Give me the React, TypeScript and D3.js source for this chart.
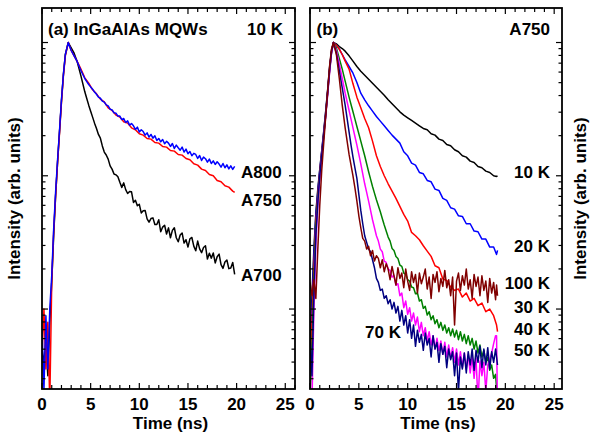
import React from 'react';
import * as d3 from 'd3';

// ---------- DATA (log10 of normalized intensity) ----------
// Panel (a) coarse sampling (ns)
const timeA = [0, 0.2, 0.4, 0.6, 0.8, 1.0, 1.2, 1.4, 1.6, 1.8, 2.0, 2.2, 2.4, 2.7, 3.0, 3.3, 3.6,
  4.0, 4.4, 4.8, 5.2, 5.6, 6.0, 6.4, 6.8, 7.2, 7.6, 8.0, 8.4, 8.8, 9.2, 9.6, 10.0, 10.4, 10.8, 11.2, 11.6,
  12.0, 12.4, 12.8, 13.2, 13.6, 14.0, 14.4, 14.8, 15.2, 15.6, 16.0, 16.4, 16.8, 17.2, 17.6, 18.0, 18.4, 18.8,
  19.2, 19.6, 19.8];

// Panel (a) fine sampling (ns)
const timeAFine = [0, 0.2, 0.4, 0.6, 0.8, 1.0, 1.2, 1.4, 1.6, 1.8, 2.0, 2.2, 2.4, 2.7, 3.0, 3.3, 3.6,
  4.0, 4.2, 4.4, 4.6, 4.8, 5.0, 5.2, 5.4, 5.6, 5.8,
  6.0, 6.2, 6.4, 6.6, 6.8, 7.0, 7.2, 7.4, 7.6, 7.8,
  8.0, 8.2, 8.4, 8.6, 8.8, 9.0, 9.2, 9.4, 9.6, 9.8,
  10.0, 10.2, 10.4, 10.6, 10.8, 11.0, 11.2, 11.4, 11.6, 11.8,
  12.0, 12.2, 12.4, 12.6, 12.8, 13.0, 13.2, 13.4, 13.6, 13.8,
  14.0, 14.2, 14.4, 14.6, 14.8, 15.0, 15.2, 15.4, 15.6, 15.8,
  16.0, 16.2, 16.4, 16.6, 16.8, 17.0, 17.2, 17.4, 17.6, 17.8,
  18.0, 18.2, 18.4, 18.6, 18.8, 19.0, 19.2, 19.4, 19.6, 19.8];

const a700 = [-2.3, -2.4, -2.25, -2.5, -2.1, -1.8, -1.45, -1.15, -0.9, -0.67, -0.44, -0.24, -0.09, 0,
  -0.04, -0.08, -0.14,
  -0.25, -0.31, -0.37, -0.42, -0.47, -0.515, -0.56, -0.605, -0.645, -0.69,
  -0.718, -0.776, -0.822, -0.844, -0.875, -0.926, -0.95, -0.987, -0.993, -1.008,
  -1.049, -1.087, -1.053, -1.104, -1.133, -1.118, -1.12, -1.2, -1.184, -1.225,
  -1.214, -1.279, -1.263, -1.26, -1.323, -1.348, -1.321, -1.316, -1.365, -1.366,
  -1.33, -1.42, -1.385, -1.371, -1.437, -1.391, -1.465, -1.41, -1.39, -1.465,
  -1.495, -1.445, -1.429, -1.505, -1.48, -1.535, -1.473, -1.463, -1.528, -1.563,
  -1.49, -1.549, -1.577, -1.538, -1.525, -1.625, -1.581, -1.618, -1.579, -1.654,
  -1.607, -1.588, -1.667, -1.695, -1.647, -1.632, -1.697, -1.692, -1.65, -1.74];

const a750 = [-2.35, -2.0, -2.45, -2.1, -2.7, -1.8, -1.42, -1.15, -0.9, -0.68, -0.45, -0.25, -0.1, 0,
  -0.06, -0.10, -0.14,
  -0.20, -0.265, -0.305, -0.355, -0.385, -0.425, -0.445, -0.49, -0.51, -0.545,
  -0.56, -0.595, -0.605, -0.64, -0.655, -0.685, -0.695, -0.72, -0.725, -0.75,
  -0.755, -0.78, -0.785, -0.81, -0.815, -0.84, -0.845, -0.87, -0.88, -0.91,
  -0.92, -0.95, -0.96, -0.99, -1.0, -1.035, -1.045, -1.075, -1.085, -1.115, -1.125];

const a800 = [-2.15, -2.6, -2.05, -2.45, -2.0, -1.75, -1.4, -1.12, -0.88, -0.66, -0.43, -0.24, -0.09, 0,
  -0.06, -0.10, -0.14,
  -0.21, -0.24, -0.27, -0.293, -0.315, -0.333, -0.35, -0.372, -0.388, -0.41,
  -0.418, -0.44, -0.447, -0.468, -0.476, -0.5, -0.506, -0.527, -0.53, -0.552,
  -0.552, -0.578, -0.57, -0.6, -0.588, -0.62, -0.608, -0.625, -0.652, -0.635,
  -0.672, -0.655, -0.668, -0.695, -0.678, -0.71, -0.69, -0.718, -0.7, -0.735,
  -0.72, -0.745, -0.728, -0.76, -0.742, -0.755, -0.78, -0.758, -0.795, -0.77,
  -0.79, -0.808, -0.785, -0.822, -0.8, -0.835, -0.818, -0.85, -0.832, -0.84,
  -0.87, -0.848, -0.885, -0.86, -0.872, -0.898, -0.875, -0.908, -0.888, -0.915,
  -0.895, -0.912, -0.935, -0.908, -0.94, -0.918, -0.948, -0.925, -0.952, -0.93];

// Panel (b) coarse sampling (ns)
const timeB = [0, 0.2, 0.4, 0.6, 0.8, 1.0, 1.2, 1.4, 1.6, 1.8, 2.0, 2.2, 2.4, 2.7, 3.0, 3.3, 3.6,
  4.0, 4.4, 4.8, 5.2, 5.6, 6.0, 6.4, 6.8, 7.2, 7.6, 8.0, 8.4, 8.8, 9.2, 9.6, 10.0, 10.4, 10.8, 11.2, 11.6,
  12.0, 12.4, 12.8, 13.2, 13.6, 14.0, 14.4, 14.8, 15.2, 15.6, 16.0, 16.4, 16.8, 17.2, 17.6, 18.0, 18.4, 18.8,
  19.1, 19.2];

// Panel (b) fine sampling (ns)
const timeBFine = [0, 0.2, 0.4, 0.6, 0.8, 1.0, 1.2, 1.4, 1.6, 1.8, 2.0, 2.2, 2.4, 2.7, 3.0, 3.3, 3.6,
  4.0, 4.2, 4.4, 4.6, 4.8, 5.0, 5.2, 5.4, 5.6, 5.8,
  6.0, 6.2, 6.4, 6.6, 6.8, 7.0, 7.2, 7.4, 7.6, 7.8,
  8.0, 8.2, 8.4, 8.6, 8.8, 9.0, 9.2, 9.4, 9.6, 9.8,
  10.0, 10.2, 10.4, 10.6, 10.8, 11.0, 11.2, 11.4, 11.6, 11.8,
  12.0, 12.2, 12.4, 12.6, 12.8, 13.0, 13.2, 13.4, 13.6, 13.8,
  14.0, 14.2, 14.4, 14.6, 14.8, 15.0, 15.2, 15.4, 15.6, 15.8,
  16.0, 16.2, 16.4, 16.6, 16.8, 17.0, 17.2, 17.4, 17.6, 17.8,
  18.0, 18.2, 18.4, 18.6, 18.8, 19.0, 19.1, 19.2];

const k10 = [-2.3, -1.9, -1.55, -1.28, -1.1, -0.95, -0.81, -0.67, -0.52, -0.36, -0.19, -0.06, 0,
  -0.01, -0.03, -0.045, -0.065,
  -0.1, -0.14, -0.18, -0.215, -0.245, -0.275, -0.305, -0.335, -0.365, -0.395,
  -0.43, -0.46, -0.49, -0.52, -0.545, -0.565, -0.585, -0.605, -0.625, -0.645,
  -0.655, -0.685, -0.695, -0.725, -0.735, -0.765, -0.775, -0.805, -0.82, -0.85,
  -0.86, -0.89, -0.90, -0.93, -0.94, -0.965, -0.975, -1.0,
  -1.005, -1.0];

const k20 = [-2.4, -2.0, -1.6, -1.3, -1.12, -0.96, -0.82, -0.68, -0.53, -0.37, -0.2, -0.07, 0,
  -0.02, -0.05, -0.09, -0.13,
  -0.18, -0.23, -0.30, -0.38, -0.43, -0.475, -0.515, -0.555, -0.59, -0.625,
  -0.66, -0.695, -0.725, -0.755, -0.82, -0.85, -0.905, -0.92, -0.975, -0.985,
  -1.035, -1.045, -1.10, -1.11, -1.17, -1.185, -1.24, -1.25, -1.30, -1.305,
  -1.36, -1.36, -1.415, -1.42, -1.475, -1.475, -1.535, -1.535,
  -1.59, -1.56];

const k30 = [-2.5, -2.1, -1.7, -1.35, -1.15, -0.98, -0.83, -0.69, -0.54, -0.38, -0.21, -0.07, 0,
  -0.02, -0.05, -0.09, -0.14,
  -0.2, -0.31, -0.41, -0.49, -0.57, -0.64, -0.74, -0.85, -0.93, -1.0,
  -1.06, -1.115, -1.17, -1.23, -1.29, -1.34, -1.425, -1.45, -1.48, -1.525,
  -1.565, -1.605, -1.675, -1.69, -1.775, -1.785, -1.835, -1.86, -1.85, -1.91,
  -1.88, -1.94, -1.92, -1.975, -1.955, -2.02, -2.0, -2.05,
  -2.12, -2.17];

const k40 = [-2.7, -2.3, -1.8, -1.4, -1.18, -1.0, -0.85, -0.7, -0.55, -0.39, -0.22, -0.08, 0,
  -0.04, -0.12, -0.2, -0.29,
  -0.41, -0.465, -0.52, -0.575, -0.63, -0.685, -0.74, -0.795, -0.85, -0.91,
  -0.97, -1.025, -1.08, -1.13, -1.18, -1.225, -1.27, -1.32, -1.37, -1.415,
  -1.46, -1.49, -1.545, -1.56, -1.605, -1.62, -1.67, -1.68, -1.73, -1.74,
  -1.78, -1.79, -1.835, -1.84, -1.885, -1.88, -1.94, -1.93, -1.995, -1.98,
  -2.045, -2.02, -2.08, -2.05, -2.11, -2.08, -2.14, -2.1, -2.16, -2.12,
  -2.18, -2.14, -2.2, -2.15, -2.21, -2.16, -2.23, -2.17, -2.24, -2.19,
  -2.26, -2.2, -2.27, -2.22, -2.3, -2.24, -2.33, -2.27, -2.36, -2.31,
  -2.4, -2.36, -2.46, -2.42, -2.52, -2.49, -2.6, -2.75];

const k50 = [-2.6, -2.7, -2.0, -1.5, -1.22, -1.02, -0.86, -0.71, -0.56, -0.4, -0.23, -0.08, 0,
  -0.06, -0.16, -0.27, -0.38,
  -0.51, -0.575, -0.64, -0.705, -0.77, -0.84, -0.91, -0.985, -1.06, -1.125,
  -1.19, -1.26, -1.33, -1.39, -1.45, -1.49, -1.55, -1.57, -1.64, -1.65,
  -1.7, -1.71, -1.76, -1.75, -1.82, -1.81, -1.9, -1.88, -1.99, -1.94,
  -2.04, -1.99, -2.09, -2.03, -2.12, -2.06, -2.17, -2.1, -2.2, -2.14,
  -2.24, -2.17, -2.27, -2.2, -2.3, -2.22, -2.31, -2.24, -2.34, -2.25,
  -2.36, -2.27, -2.37, -2.29, -2.4, -2.3, -2.42, -2.32, -2.44, -2.33,
  -2.45, -2.34, -2.48, -2.36, -2.52, -2.37, -2.7, -2.39, -2.5, -2.4,
  -2.62, -2.42, -2.38, -2.33, -2.26, -2.2, -2.2, -2.75];

const k70 = [-2.2, -2.5, -1.9, -1.45, -1.2, -1.0, -0.85, -0.7, -0.55, -0.38, -0.21, -0.07, 0,
  -0.08, -0.21, -0.34, -0.47,
  -0.67, -0.77, -0.86, -0.94, -1.02, -1.14, -1.26, -1.36, -1.45, -1.5,
  -1.55, -1.57, -1.63, -1.69, -1.77, -1.8, -1.86, -1.85, -1.92, -1.9,
  -1.96, -1.93, -2.0, -1.95, -2.03, -1.98, -2.09, -2.01, -2.12, -2.05,
  -2.18, -2.08, -2.22, -2.12, -2.28, -2.16, -2.25, -2.19, -2.31, -2.18,
  -2.27, -2.22, -2.36, -2.2, -2.3, -2.25, -2.4, -2.26, -2.34, -2.28,
  -2.44, -2.3, -2.38, -2.32, -2.5, -2.33, -2.62, -2.36, -2.45, -2.33,
  -2.48, -2.32, -2.42, -2.3, -2.46, -2.31, -2.4, -2.28, -2.44, -2.3,
  -2.42, -2.29, -2.45, -2.32, -2.4, -2.3, -2.36, -2.42];

const k100 = [-1.8, -1.9, -1.78, -1.92, -1.55, -1.22, -0.96, -0.76, -0.56, -0.37, -0.18, -0.05, 0,
  -0.09, -0.27, -0.47, -0.64,
  -0.84, -0.92, -1.0, -1.09, -1.19, -1.3, -1.39, -1.47, -1.49, -1.55,
  -1.53, -1.6, -1.56, -1.64, -1.6, -1.62, -1.69, -1.63, -1.72, -1.66,
  -1.7, -1.78, -1.68, -1.75, -1.82, -1.69, -1.77, -1.73, -1.84, -1.7,
  -1.79, -1.86, -1.72, -1.8, -1.74, -1.88, -1.73, -1.81, -1.76, -1.7,
  -1.85, -1.76, -1.92, -1.74, -1.8, -1.72, -1.87, -1.77, -1.83, -1.71,
  -1.84, -1.78, -1.9, -1.76, -2.12, -1.79, -1.73, -1.86, -1.75, -1.82,
  -1.7, -1.85, -1.78, -1.92, -1.74, -1.83, -1.76, -1.9, -1.75, -1.86,
  -1.79, -1.95, -1.77, -1.88, -1.8, -1.93, -1.82, -1.9];

const xTickValues = [0, 5, 10, 15, 20, 25];

// ---------- LAYOUT ----------
const FONT = '"Liberation Sans", Arial, Helvetica, sans-serif';
const TOP = 8;
const BOTTOM = 389;
const yScale = d3.scaleLog().domain([10 ** -2.6, 10 ** 0.259]).range([BOTTOM, TOP]);

type Series = { t: number[]; v: number[]; color: string };

function Panel(props: { id: string; left: number; right: number; xMax: number; series: Series[] }) {
  const { id, left, right, xMax, series } = props;
  const x = d3.scaleLinear().domain([0, xMax]).range([left, right]);
  const line = d3
    .line<[number, number]>()
    .x((d) => x(d[0]))
    .y((d) => yScale(Math.pow(10, d[1])));
  const minorX = d3.range(0, Math.floor(xMax) + 1);
  const yt = yScale.ticks();
  const isMajor = (v: number) => Math.abs(Math.log10(v) - Math.round(Math.log10(v))) < 1e-6;
  return (
    <g>
      <defs>
        <clipPath id={id}>
          <rect x={left} y={TOP} width={right - left} height={BOTTOM - TOP} />
        </clipPath>
      </defs>
      <g clipPath={`url(#${id})`}>
        {series.map((s, i) => (
          <path
            key={i}
            d={line(d3.zip(s.t, s.v) as [number, number][]) || ''}
            fill="none"
            stroke={s.color}
            strokeWidth={1.5}
            strokeLinejoin="round"
          />
        ))}
      </g>
      {minorX.map((v) => {
        const len = v % 5 === 0 ? 6 : 4;
        return (
          <g key={'x' + v} stroke="#000" strokeWidth={1.2}>
            <line x1={x(v)} x2={x(v)} y1={BOTTOM} y2={BOTTOM - len} />
            <line x1={x(v)} x2={x(v)} y1={TOP} y2={TOP + len} />
          </g>
        );
      })}
      {yt.map((v, i) => {
        const len = isMajor(v) ? 6 : 3.5;
        const yy = yScale(v);
        return (
          <g key={'y' + i} stroke="#000" strokeWidth={1.2}>
            <line x1={left} x2={left + len} y1={yy} y2={yy} />
            <line x1={right} x2={right - len} y1={yy} y2={yy} />
          </g>
        );
      })}
      <rect x={left} y={TOP} width={right - left} height={BOTTOM - TOP} fill="none" stroke="#000" strokeWidth={1.8} />
      {xTickValues.map((v) => (
        <text key={'l' + v} x={x(v)} y={409.5} textAnchor="middle" fontSize={17} fontWeight="bold">
          {v}
        </text>
      ))}
      <text x={(left + right) / 2 + 2} y={429} textAnchor="middle" fontSize={17} fontWeight="bold">
        Time (ns)
      </text>
    </g>
  );
}

export default function App() {
  const seriesA: Series[] = [
    { t: timeAFine, v: a700, color: '#000000' },
    { t: timeA, v: a750, color: '#ff0000' },
    { t: timeAFine, v: a800, color: '#0000ff' },
  ];
  const seriesB: Series[] = [
    { t: timeB, v: k10, color: '#000000' },
    { t: timeB, v: k20, color: '#0000ff' },
    { t: timeB, v: k30, color: '#ff0000' },
    { t: timeBFine, v: k40, color: '#008000' },
    { t: timeBFine, v: k50, color: '#ff00ff' },
    { t: timeBFine, v: k70, color: '#000080' },
    { t: timeBFine, v: k100, color: '#800000' },
  ];
  return (
    <svg
      width={590}
      height={436}
      style={{ position: 'absolute', left: 0, top: 0, background: '#fff' }}
      fontFamily={FONT}
    >
      <rect x={0} y={0} width={590} height={436} fill="#fff" />
      <Panel id="clipA" left={42} right={295} xMax={26} series={seriesA} />
      <Panel id="clipB" left={310} right={562} xMax={25.8} series={seriesB} />
      <g fontSize={17} fontWeight="bold" fill="#000">
        <text x={48} y={34.5}>(a) InGaAlAs MQWs</text>
        <text x={283} y={34.5} textAnchor="end">10 K</text>
        <text x={316.5} y={34.5}>(b)</text>
        <text x={550} y={34.5} textAnchor="end">A750</text>
        <text x={241} y={178}>A800</text>
        <text x={241} y={206}>A750</text>
        <text x={241} y={281}>A700</text>
        <text x={550} y={178} textAnchor="end">10 K</text>
        <text x={550} y={252} textAnchor="end">20 K</text>
        <text x={550} y={289} textAnchor="end">100 K</text>
        <text x={550} y={313} textAnchor="end">30 K</text>
        <text x={550} y={335} textAnchor="end">40 K</text>
        <text x={550} y={356} textAnchor="end">50 K</text>
        <text x={365} y={338}>70 K</text>
        <text transform="translate(19.5,198.5) rotate(-90)" textAnchor="middle">Intensity (arb. units)</text>
        <text transform="translate(586,198.5) rotate(-90)" textAnchor="middle">Intensity (arb. units)</text>
      </g>
    </svg>
  );
}
